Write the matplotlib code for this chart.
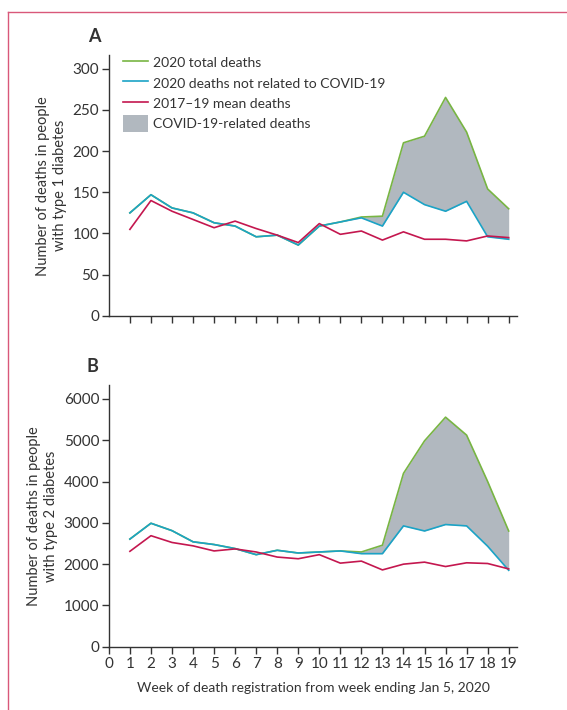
import matplotlib.pyplot as plt
from matplotlib.lines import Line2D

plt.rcParams['font.family'] = ['Lato', 'DejaVu Sans']

weeks = list(range(1, 20))

# type 1 diabetes
t1_total = [125, 147, 131, 125, 113, 109, 96, 98, 86, 109, 114, 120, 121, 210, 218, 265, 223, 154, 130]
t1_noncovid = [125, 147, 131, 125, 113, 109, 96, 98, 86, 109, 114, 119, 109, 150, 135, 127, 139, 96, 93]
t1_mean = [105, 140, 127, 117, 107, 115, 106, 98, 89, 112, 99, 103, 92, 102, 93, 93, 91, 97, 95]

# type 2 diabetes
t2_total = [2607, 2990, 2811, 2541, 2475, 2377, 2230, 2336, 2270, 2295, 2320, 2295, 2459, 4197, 4984, 5557, 5123, 4000, 2803]
t2_noncovid = [2607, 2990, 2811, 2541, 2475, 2377, 2230, 2336, 2270, 2295, 2320, 2254, 2254, 2926, 2803, 2959, 2926, 2434, 1852]
t2_mean = [2311, 2689, 2525, 2443, 2320, 2369, 2295, 2172, 2131, 2230, 2025, 2074, 1861, 2000, 2049, 1943, 2033, 2016, 1885]

GREEN = '#78b543'
CYAN = '#1ba3c6'
RED = '#c4174f'
GREY = '#b1b8bf'
TXT = '#333333'

fig = plt.figure(figsize=(5.67, 7.10), dpi=100)

axA = fig.add_axes([0.192, 0.555, 0.72, 0.367])
axB = fig.add_axes([0.192, 0.089, 0.72, 0.369])


def draw(ax, total, noncovid, mean):
    ax.fill_between(weeks, noncovid, total, color=GREY, lw=0,
                    label='COVID-19-related deaths')
    ax.plot(weeks, total, color=GREEN, lw=1.2, label='2020 total deaths')
    ax.plot(weeks, noncovid, color=CYAN, lw=1.2,
            label='2020 deaths not related to COVID-19')
    ax.plot(weeks, mean, color=RED, lw=1.2, label='2017\u201319 mean deaths')
    for s in ['top', 'right']:
        ax.spines[s].set_visible(False)
    for s in ['left', 'bottom']:
        ax.spines[s].set_color(TXT)
        ax.spines[s].set_linewidth(1.0)
    ax.tick_params(colors=TXT, labelsize=11, length=5, width=1.0, pad=2)
    ax.set_xlim(0, 19.4)


draw(axA, t1_total, t1_noncovid, t1_mean)
axA.set_ylim(0, 316)
axA.set_yticks([0, 50, 100, 150, 200, 250, 300])
axA.set_xticks(weeks)
axA.set_xticklabels([])
axA.set_ylabel('Number of deaths in people\nwith type 1 diabetes', fontsize=10.5,
               color=TXT, labelpad=4, linespacing=1.3)

h, l = axA.get_legend_handles_labels()
order = [1, 2, 3, 0]
axA.legend([h[i] for i in order], [l[i] for i in order], loc='upper left',
           bbox_to_anchor=(0.005, 1.05), frameon=False, fontsize=10,
           handlelength=1.8, handleheight=1.4, handletextpad=0.3,
           labelspacing=0.3, labelcolor=TXT)

draw(axB, t2_total, t2_noncovid, t2_mean)
axB.set_ylim(0, 6340)
axB.set_yticks([0, 1000, 2000, 3000, 4000, 5000, 6000])
axB.set_xticks(range(0, 20))
axB.set_ylabel('Number of deaths in people\nwith type 2 diabetes', fontsize=10.5,
               color=TXT, labelpad=4, linespacing=1.3)
axB.set_xlabel('Week of death registration from week ending Jan 5, 2020',
               fontsize=10, color=TXT, labelpad=8)

fig.text(0.155, 0.941, 'A', fontsize=13, fontweight='bold', color=TXT)
fig.text(0.153, 0.476, 'B', fontsize=13, fontweight='bold', color=TXT)

# frame lines
border = '#d9587a'
fig.add_artist(Line2D([0.0135, 0.0135], [0.0, 0.983], color=border, lw=1.0))
fig.add_artist(Line2D([0.0135, 1.0], [0.983, 0.983], color=border, lw=1.0))

fig.savefig('out.png', dpi=100)
